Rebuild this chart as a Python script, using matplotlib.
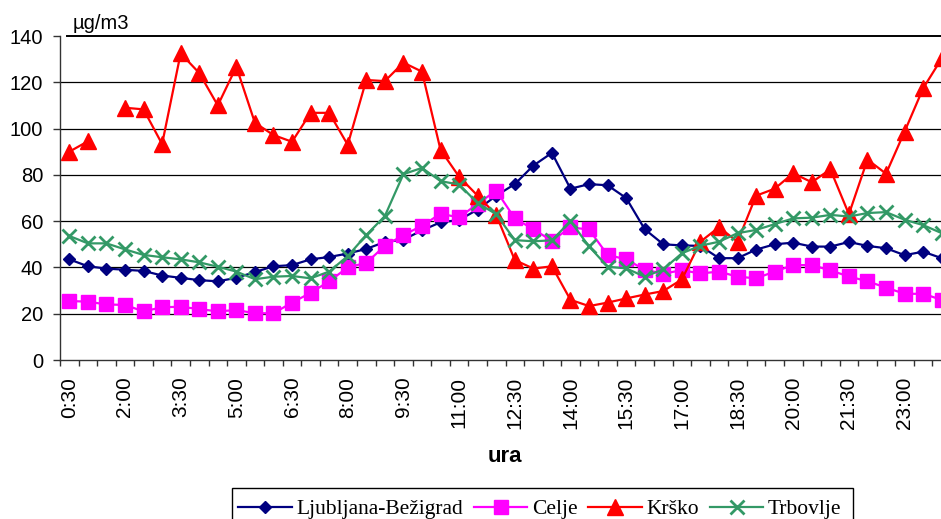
import numpy as np
import matplotlib
matplotlib.use('Agg')
import matplotlib.pyplot as plt
from matplotlib.patches import Rectangle

plt.rcParams['font.family'] = ['Liberation Sans', 'DejaVu Sans']

times = ["0:30", "1:00", "1:30", "2:00", "2:30", "3:00", "3:30", "4:00",
         "4:30", "5:00", "5:30", "6:00", "6:30", "7:00", "7:30", "8:00",
         "8:30", "9:00", "9:30", "10:00", "10:30", "11:00", "11:30", "12:00",
         "12:30", "13:00", "13:30", "14:00", "14:30", "15:00", "15:30", "16:00",
         "16:30", "17:00", "17:30", "18:00", "18:30", "19:00", "19:30", "20:00",
         "20:30", "21:00", "21:30", "22:00", "22:30", "23:00", "23:30", "24:00"]

ljubljana = [43.5, 40.5, 39.5, 39, 38.5, 36.5, 35.5, 34.5, 34, 35.5, 38, 40.5,
             41, 43.5, 44.5, 46, 48, 51, 52, 56, 59.5, 60.5, 65, 71,
             76, 84, 89.5, 74, 76, 75.5, 70, 56.5, 50, 49.5, 49.3, 44,
             44, 47.7, 50, 50.7, 49, 49, 51, 49.3, 48.3, 45.3, 46.8, 44]

celje = [25.5, 25.2, 24, 23.8, 21, 22.8, 23, 22, 21, 21.6, 20.2, 20.2,
         24.8, 29, 34, 40, 42, 49.3, 54, 58, 63.2, 61.6, 67.5, 73.2,
         61.2, 56.5, 51.5, 57.3, 56.4, 45.4, 43.5, 39, 37.3, 38.8, 37.4, 38.2,
         36, 35.3, 38.2, 41, 41, 38.7, 36.1, 34, 31.3, 28.6, 28.6, 26]

krsko = [90, 94.5, np.nan, 109, 108.3, 93.3, 132.5, 124, 110, 126.7, 102.5, 97.2,
         94.3, 106.8, 106.8, 93, 121, 120.5, 128.5, 124.6, 90.8, 79.2, 71, 62.7,
         43.2, 39.5, 40.5, 26, 23.3, 24.8, 26.6, 28.3, 29.8, 34.8, 51.1, 57.4,
         51.1, 71, 74, 80.7, 76.8, 82.4, 63, 86.6, 80.5, 98.7, 117.4, 130.3]

trbovlje = [53.6, 50.4, 50.4, 47.8, 45.4, 44.4, 43.5, 42.2, 40.3, 38.2, 34.9, 36,
            36.3, 35.3, 38.2, 44.9, 54, 62.2, 80.3, 83, 77.3, 75.8, 67.8, 63,
            51.8, 51.3, 51.7, 60, 49.1, 40.3, 39.6, 36, 39.2, 46.1, 49.4, 51.1,
            54.8, 56.2, 58.7, 61.2, 61.5, 62.7, 62, 63.5, 63.9, 60.6, 58.3, 54.8]

series_names = ["Ljubljana-Bežigrad", "Celje", "Krško", "Trbovlje"]
yticks = [0, 20, 40, 60, 80, 100, 120, 140]

W, H = 941, 519
fig = plt.figure(figsize=(W / 100, H / 100), dpi=100)
ax = fig.add_axes([60 / W, (H - 360) / H, 891 / W, 324 / H])

x = np.arange(len(times))
ax.plot(x, ljubljana, color='#000080', marker='D', ms=6.5, lw=1.6,
        label=series_names[0], zorder=3)
ax.plot(x, celje, color='#FF00FF', marker='s', ms=10, lw=1.6,
        label=series_names[1], zorder=3)
ax.plot(x, krsko, color='#FF0000', marker='^', ms=11, lw=1.6,
        label=series_names[2], zorder=3)
ax.plot(x, trbovlje, color='#339966', marker='x', ms=10, mew=2, lw=1.6,
        label=series_names[3], zorder=3)

ax.set_xlim(-0.5, len(times) - 0.5)
ax.set_ylim(0, 140)

# gridlines
for yv in yticks[1:-1]:
    ax.axhline(yv, color='black', lw=0.9, zorder=1)
ax.axhline(140, xmin=7 / 891, color='black', lw=1.4, zorder=1, clip_on=False)

for s in ['top', 'right']:
    ax.spines[s].set_visible(False)
ax.spines['left'].set_color('#333333')
ax.spines['bottom'].set_color('#333333')
ax.spines['left'].set_linewidth(1.0)
ax.spines['bottom'].set_linewidth(1.0)

ax.set_yticks(yticks)
ax.set_yticklabels([str(v) for v in yticks])
ax.tick_params(axis='y', length=5, width=1, pad=7, labelsize=14.5, color='#333333')

ax.set_xticks(x[::3])
ax.set_xticklabels(times[::3], rotation=90)
ax.tick_params(axis='x', which='major', length=0, pad=12, labelsize=15)
ax.set_xticks(np.arange(-0.5, len(times), 1), minor=True)
ax.tick_params(axis='x', which='minor', length=4.3, width=1, direction='out', color='#333333')

fig.text(73 / W, 1 - 29.3 / H, 'µg/m3', va='baseline', ha='left', fontsize=14.5)
fig.text(505 / W, 1 - 456.7 / H, 'ura', ha='center', va='center',
         fontweight='bold', fontsize=16)

# legend frame (extends past the bottom edge, as in the reference)
fig.patches.append(Rectangle((232 / W, -0.1), (853 - 232) / W, (1 - 488 / H) + 0.1,
                             transform=fig.transFigure, fill=False,
                             edgecolor='black', lw=1.0, zorder=5))

handles, labels = ax.get_legend_handles_labels()
leg = fig.legend(handles, labels, loc='center left',
                 bbox_to_anchor=(238 / W, 1 - 509 / H), ncol=4,
                 prop={'family': 'Liberation Serif', 'size': 15.5},
                 frameon=False,
                 handlelength=2.5, handletextpad=0.2, columnspacing=0.5,
                 borderpad=0, borderaxespad=0)

fig.savefig('out.png', dpi=100)
